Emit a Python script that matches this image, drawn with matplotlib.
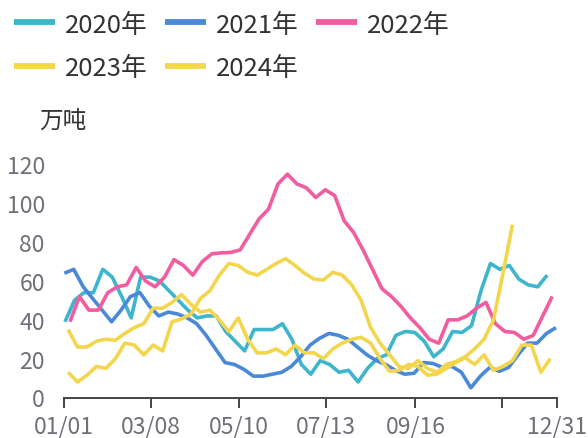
import matplotlib
matplotlib.use("Agg")
import matplotlib.pyplot as plt
from matplotlib.lines import Line2D
import numpy as np

plt.rcParams['font.family'] = ['Noto Sans CJK SC', 'DejaVu Sans']

# ---- data (weekly values, 万吨) ----
start_2020 = 0.5
y2020 = [39, 50, 54, 54, 66, 62, 52, 41, 62, 62, 60, 55, 50, 45, 41, 42, 42, 34, 29, 24,
         35, 35, 35, 38, 30, 17, 12, 19, 17, 13, 14, 8, 15, 20, 22, 32, 34, 33.5, 29, 21,
         25, 34, 33.5, 37, 55, 69, 66, 68, 61, 58, 57, 63]

start_2021 = 0.0
y2021 = [64, 66, 57, 51, 45, 39, 45, 52, 54, 47, 42, 44, 43, 41, 38, 32, 25, 18, 17, 14.5,
         11, 11, 12, 13, 16, 21, 27, 30.5, 33, 32, 30, 26, 22, 19, 17, 14, 12, 12.5, 18, 17.5,
         15.5, 16, 13, 5, 11, 15.5, 13.5, 15.5, 22, 28, 28, 33, 36]

start_2022 = 4.2
y2022 = [39, 52, 45, 45, 54, 57, 58, 67, 60, 57, 62, 71, 68, 63, 70, 74, 74.5, 74.7, 76, 84,
         92, 97, 110, 115, 110, 108, 103, 107, 104, 91, 85, 76, 66, 56, 52, 47, 41, 36, 30, 28,
         40, 40, 42, 46, 49, 38, 34, 33.5, 30, 32, 42, 52]

start_2023 = 2.8
y2023 = [35, 26, 26, 29, 30, 29.5, 33, 36, 38, 46, 46, 49, 53, 48, 44, 45, 40, 34, 41, 30,
         23, 23, 25, 22, 27, 23, 23, 20, 25, 28, 30, 31, 28, 20, 13.5, 14, 17, 16, 11.5, 12,
         15, 18, 20.5, 17, 22, 14, 16, 19, 27, 27, 13, 20]

start_2024 = 2.8
y2024 = [13, 8, 11.5, 16, 15, 20, 28, 27, 22, 27, 24, 39, 40.5, 43, 51, 55, 63, 69, 68, 64.5,
         63, 66, 69, 71.5, 68, 64, 61, 60.5, 64.5, 63, 58, 50, 36, 28, 22, 16, 15, 19, 15, 13,
         17, 18.5, 21, 25, 30, 40, 64, 89]

series_names = ["2020年", "2021年", "2022年", "2023年", "2024年"]
series_starts = [start_2020, start_2021, start_2022, start_2023, start_2024]
series_values = [y2020, y2021, y2022, y2023, y2024]
series_colors = ["#3db5cc", "#4a89d8", "#f25ca0", "#f3d64e", "#f3d64e"]

tick_days = [0, 64, 129, 194, 260, 324, 365]
tick_labels = ["01/01", "03/08", "05/10", "07/13", "09/16", "", "12/31"]
y_ticks = [0, 20, 40, 60, 80, 100, 120]

# ---- figure ----
W, H = 588, 439
fig = plt.figure(figsize=(W / 100, H / 100), dpi=100)
left, right, bottom, top = 64.3, 557.3, 398.5, 165.5
ax = fig.add_axes([left / W, (H - bottom) / H, (right - left) / W, (bottom - top) / H])

for s, vals, col in zip(series_starts, series_values, series_colors):
    x = s + 7 * np.arange(len(vals))
    ax.plot(x, vals, color=col, lw=2.6, clip_on=False,
            solid_joinstyle='round', solid_capstyle='butt')

ax.set_xlim(0, 365)
ax.set_ylim(0, 120)
ax.set_xticks(tick_days)
ax.set_xticklabels(tick_labels)
ax.set_yticks(y_ticks)

for sp in ['top', 'right', 'left']:
    ax.spines[sp].set_visible(False)
ax.spines['bottom'].set_color('#444444')
ax.spines['bottom'].set_linewidth(1.4)
ax.tick_params(axis='x', colors='#444444', length=7, width=1.4, pad=5,
               labelsize=16.5, labelcolor='#6e7079')
ax.tick_params(axis='y', length=0, pad=14, labelsize=16.5, labelcolor='#6e7079')

fig.text(39 / W, 1 - 121 / H, "万吨", fontsize=17, color='#333333', va='center', ha='left')

# legend (two rows, ECharts style)
legend_pos = [(14, 22.7), (165, 22.7), (316, 22.7), (14, 66.5), (165, 66.5)]
for (lx, ly), name, col in zip(legend_pos, series_names, series_colors):
    yy = 1 - ly / H
    fig.add_artist(Line2D([lx / W, (lx + 41) / W], [yy, yy], transform=fig.transFigure,
                          color=col, lw=4.2, solid_capstyle='butt'))
    fig.text((lx + 51) / W, yy, name, fontsize=18.5, color='#333333',
             va='center_baseline', ha='left')

fig.savefig("out.png", dpi=100)
